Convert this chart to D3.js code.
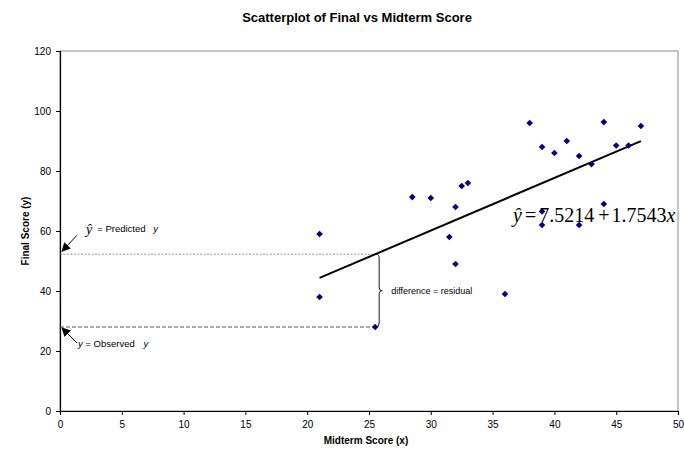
<!DOCTYPE html>
<html>
<head>
<meta charset="utf-8">
<script src="https://cdn.jsdelivr.net/npm/d3@7/dist/d3.min.js"></script>
<style>
  html, body { margin: 0; padding: 0; background: #fff; }
  svg { display: block; }
  text { font-family: "Liberation Sans", Arial, sans-serif; }
</style>
</head>
<body>
<svg id="chart" width="684" height="450"></svg>
<script>
// Midterm (x) and final (y) scores, one entry per student
const midterm = [21, 21, 25.5, 28.5, 30, 31.5, 32, 32, 32.5, 33,
                 36, 38, 39, 39, 39, 40, 41, 42, 42, 43, 44, 44, 45, 46, 47];
const finalScore = [59, 38, 28, 71.3, 71, 58, 68, 49, 75, 76,
                    39, 96, 88, 66.5, 62, 86, 90, 85, 62, 82.3, 96.3, 69, 88.5, 88.5, 95];

// Least-squares fit shown on the chart
const intercept = 7.5214;
const slope = 1.7543;
const fitRange = [21, 47];

// Highlighted residual example
const exampleX = 25.5;
const exampleY = 28;

const xTicks = [0, 5, 10, 15, 20, 25, 30, 35, 40, 45, 50];
const yTicks = [0, 20, 40, 60, 80, 100, 120];

const svg = d3.select("#chart");
const plotLeft = 60, plotRight = 678, plotTop = 51, plotBottom = 411;

const x = d3.scaleLinear().domain([0, 50]).range([plotLeft, plotRight]);
const y = d3.scaleLinear().domain([0, 120]).range([plotBottom, plotTop]);

// Plot area frame
svg.append("rect")
  .attr("x", plotLeft).attr("y", plotTop)
  .attr("width", plotRight - plotLeft).attr("height", plotBottom - plotTop)
  .attr("fill", "none").attr("stroke", "#8c8c8c").attr("stroke-width", 1);

// Axes
const xAxis = svg.append("g")
  .attr("transform", `translate(0,${plotBottom})`)
  .call(d3.axisBottom(x).tickValues(xTicks).tickSizeOuter(0).tickSize(4).tickPadding(6));
const yAxis = svg.append("g")
  .attr("transform", `translate(${plotLeft},0)`)
  .call(d3.axisLeft(y).tickValues(yTicks).tickSizeOuter(0).tickSize(4).tickPadding(5));
[xAxis, yAxis].forEach(g => {
  g.select(".domain").attr("stroke", "#000").attr("stroke-width", 1.2);
  g.selectAll(".tick line").attr("stroke", "#000");
  g.selectAll(".tick text")
    .attr("fill", "#000")
    .style("font-family", "'Liberation Sans', Arial, sans-serif")
    .style("font-size", "10px");
});

// Title and axis titles
svg.append("text")
  .attr("x", 357).attr("y", 22)
  .attr("text-anchor", "middle")
  .style("font-size", "13px").style("font-weight", "bold")
  .text("Scatterplot of Final vs Midterm Score");
svg.append("text")
  .attr("x", (plotLeft + plotRight) / 2 - 3).attr("y", 444)
  .attr("text-anchor", "middle")
  .style("font-size", "10px").style("font-weight", "bold")
  .text("Midterm Score (x)");
svg.append("text")
  .attr("transform", `translate(29,${(plotTop + plotBottom) / 2}) rotate(-90)`)
  .attr("text-anchor", "middle")
  .style("font-size", "10px").style("font-weight", "bold")
  .text("Final Score (y)");

// Residual guide lines
const yHat = intercept + slope * exampleX;
svg.append("line")
  .attr("x1", x(0)).attr("x2", x(exampleX))
  .attr("y1", y(yHat)).attr("y2", y(yHat))
  .attr("stroke", "#777").attr("stroke-width", 0.8)
  .attr("stroke-dasharray", "2,1.5");
svg.append("line")
  .attr("x1", x(0)).attr("x2", x(exampleX))
  .attr("y1", y(exampleY)).attr("y2", y(exampleY))
  .attr("stroke", "#444").attr("stroke-width", 0.9)
  .attr("stroke-dasharray", "4,2");

// Regression line
svg.append("line")
  .attr("x1", x(fitRange[0])).attr("y1", y(intercept + slope * fitRange[0]))
  .attr("x2", x(fitRange[1])).attr("y2", y(intercept + slope * fitRange[1]))
  .attr("stroke", "#000").attr("stroke-width", 2);

// Data points
const pts = midterm.map((m, i) => ({ m, f: finalScore[i] }));
svg.append("g").selectAll("path")
  .data(pts)
  .join("path")
  .attr("d", d3.symbol(d3.symbolDiamond2, 28))
  .attr("transform", d => `translate(${x(d.m)},${y(d.f)})`)
  .attr("fill", "#000080");

// Curly brace between observed and predicted values
const bx = x(exampleX) + 2;
const by1 = y(yHat), by2 = y(exampleY), bm = (by1 + by2) / 2;
svg.append("path")
  .attr("d", `M${bx - 1},${by1} q3,0 3,4 V${bm - 3} q0,3 3,3 q-3,0 -3,3 V${by2 - 4} q0,4 -3,4`)
  .attr("fill", "none").attr("stroke", "#000").attr("stroke-width", 0.9);
svg.append("text")
  .attr("x", bx + 14).attr("y", bm + 3)
  .style("font-size", "9px")
  .text("difference = residual");

// Arrow markers
svg.append("defs").append("marker")
  .attr("id", "arrow")
  .attr("viewBox", "0 0 10 10")
  .attr("refX", 9).attr("refY", 5)
  .attr("markerWidth", 9).attr("markerHeight", 9)
  .attr("markerUnits", "userSpaceOnUse")
  .attr("orient", "auto")
  .append("path").attr("d", "M0,0 L10,5 L0,10 z").attr("fill", "#000");

svg.append("line")
  .attr("x1", x(0) + 17).attr("y1", y(yHat) - 19)
  .attr("x2", x(0) + 2).attr("y2", y(yHat) - 3)
  .attr("stroke", "#000").attr("stroke-width", 1)
  .attr("marker-end", "url(#arrow)");
svg.append("line")
  .attr("x1", x(0) + 17).attr("y1", y(exampleY) + 16)
  .attr("x2", x(0) + 2).attr("y2", y(exampleY) + 1)
  .attr("stroke", "#000").attr("stroke-width", 1)
  .attr("marker-end", "url(#arrow)");

// Annotation labels
const pred = svg.append("text").attr("x", x(0) + 26).attr("y", y(yHat) - 22);
pred.append("tspan")
  .style("font-family", "'Liberation Serif', 'Times New Roman', serif")
  .style("font-style", "italic").style("font-size", "14px")
  .attr("dy", 2)
  .text("ŷ");
pred.append("tspan").attr("dx", 5).attr("dy", -2).style("font-size", "9.5px").text("= Predicted ");
pred.append("tspan").attr("dx", 5).style("font-size", "9.5px").style("font-style", "italic").text("y");

const obs = svg.append("text").attr("x", x(0) + 18).attr("y", y(exampleY) + 20);
obs.append("tspan").style("font-size", "9.5px").style("font-style", "italic").text("y");
obs.append("tspan").style("font-size", "9.5px").text(" = Observed ");
obs.append("tspan").attr("dx", 6).style("font-size", "9.5px").style("font-style", "italic").text("y");

// Fitted equation
const eq = svg.append("text")
  .attr("x", 513).attr("y", 222)
  .style("font-family", "'Liberation Serif', 'Times New Roman', serif")
  .style("font-size", "20px");
eq.append("tspan").style("font-style", "italic").text("ŷ");
eq.append("tspan").attr("dx", 3).text("=");
eq.append("tspan").attr("dx", 3).text(intercept.toFixed(4));
eq.append("tspan").attr("dx", 4).text("+");
eq.append("tspan").attr("dx", 2).text(slope.toFixed(4));
eq.append("tspan").style("font-style", "italic").text("x");
</script>
</body>
</html>
